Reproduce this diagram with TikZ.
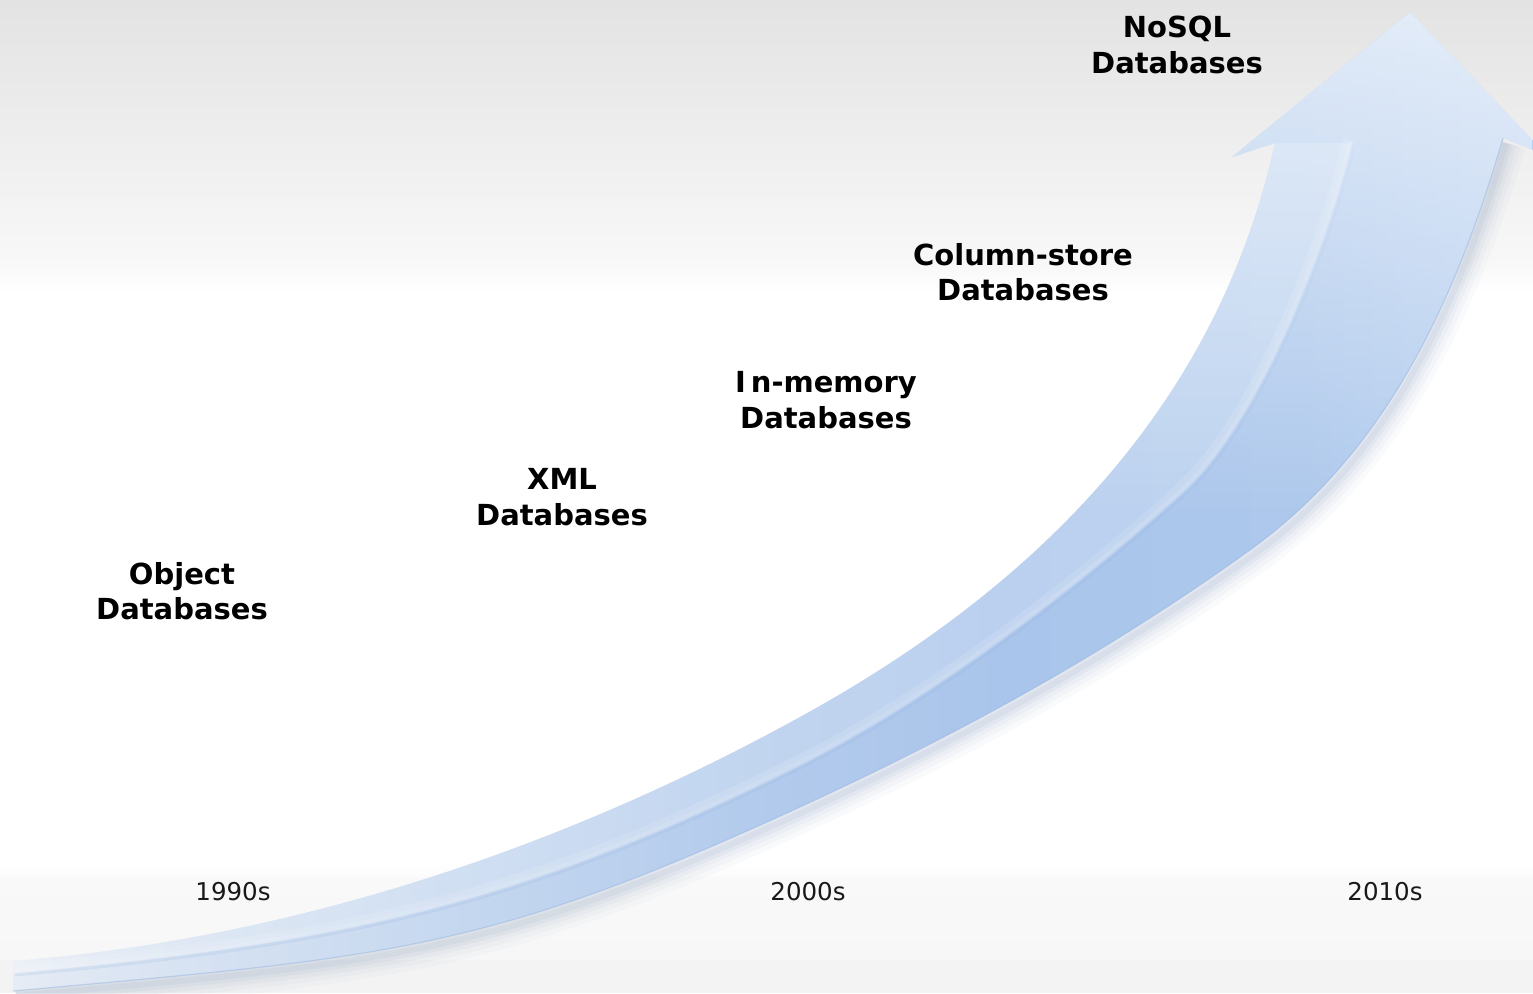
\documentclass[tikz,border=0pt]{standalone}
\usepackage{fontspec}
\setmainfont{DejaVu Sans}
\usetikzlibrary{fadings}
\definecolor{bgtop}{HTML}{E3E3E3}
\definecolor{bgmid}{HTML}{F8F8F8}
\definecolor{bgba}{HTML}{FCFCFC}
\definecolor{bgbb}{HTML}{F9F9F9}
\definecolor{bgbc}{HTML}{F7F7F7}
\definecolor{bgbd}{HTML}{F3F3F3}
\definecolor{taa}{HTML}{E8EDF5}
\definecolor{tab}{HTML}{DDE6F3}
\definecolor{tac}{HTML}{C9DAF0}
\definecolor{tad}{HTML}{B3CBEC}
\definecolor{tae}{HTML}{AAC5EB}
\definecolor{taf}{HTML}{ADC8EC}
\definecolor{tag}{HTML}{B8D0F0}
\definecolor{shadowc}{HTML}{7F95B8}
\definecolor{edgec}{HTML}{98B6E3}
\pgfdeclarehorizontalshading{arrowshade}{100bp}{color(0bp)=(taa); color(25bp)=(taa); color(28.3bp)=(tab); color(38bp)=(tac); color(49.5bp)=(tad); color(57.6bp)=(tae); color(67.4bp)=(taf); color(75bp)=(tag); color(100bp)=(tag)}
\tikzfading[name=headfade, top color=transparent!35, bottom color=transparent!100]
\tikzset{
  bottomedge/.style={insert path={(1503,138) .. controls (1455.7,300.2) and (1386.7,451.6) .. (1250,550) .. controls (1100,658) and (950,738) .. (800,807) .. controls (486,951.6) and (390,957) .. (13,991)}},
  arrowpath/.style={insert path={(13,961) .. controls (273,940) and (540,860) .. (800,717) .. controls (1077,565) and (1225,370) .. (1275,143) -- (1232,157) -- (1410,12) -- (1548,156) -- (1503,138) .. controls (1455.7,300.2) and (1386.7,451.6) .. (1250,550) .. controls (1100,658) and (950,738) .. (800,807) .. controls (486,951.6) and (390,957) .. (13,991) -- cycle}},
  stripepath/.style={insert path={(13,961) .. controls (273,940) and (540,860) .. (800,717) .. controls (1077,565) and (1225,370) .. (1275,143) -- (1352,143) .. controls (1329,240) and (1260,425) .. (1180,495) .. controls (1060,603) and (920,705) .. (800,765) .. controls (526,902) and (349.6,942.7) .. (13,973) -- cycle}},
  stripeline/.style={insert path={(1352,143) .. controls (1329,240) and (1260,425) .. (1180,495) .. controls (1060,603) and (920,705) .. (800,765) .. controls (526,902) and (349.6,942.7) .. (13,973)}},
  lbl/.style={font=\fontsize{29}{35.5}\selectfont\bfseries, align=center, inner sep=0pt, text=black},
  yr/.style={font=\fontsize{24.5}{29}\selectfont, inner sep=0pt, anchor=base, text=black!90}
}
\begin{document}
\begin{tikzpicture}[x=1pt,y=-1pt]
\useasboundingbox (0,0) rectangle (1533,993);
\begin{scope}
\clip (0,0) rectangle (1533,993);
% background
\fill[white] (0,0) rectangle (1533,993);
\shade[top color=bgtop, bottom color=bgmid] (0,0) rectangle (1533,266);
\shade[top color=bgmid, bottom color=white] (0,266) rectangle (1533,292);
\shade[top color=white, bottom color=bgba] (0,858) rectangle (1533,877);
\shade[top color=bgbb, bottom color=bgbc] (0,877) rectangle (1533,960);
\fill[bgbd] (0,960) rectangle (1533,993);
% shadow
\foreach \w/\o in {40/0.04, 30/0.05, 21/0.06, 13/0.08, 6/0.09}
  \draw[shadowc, line width=\w, opacity=\o, shift={(3,5)}, bottomedge];
% arrow body
\begin{scope}
  \clip[arrowpath];
  \shade[shading=arrowshade] (0,0) rectangle (1533,993);
  \fill[white, opacity=0.2, stripepath];
  \draw[white, opacity=0.12, line width=12, shift={(-3,-3)}, stripeline];
  \draw[white, opacity=0.1, line width=4, shift={(-2,-2)}, stripeline];
  \draw[edgec, opacity=0.22, line width=3, shift={(2,2)}, stripeline];
  \fill[white, path fading=headfade] (1040,0) rectangle (1533,520);
\end{scope}
\draw[edgec, opacity=0.5, line width=1.2, bottomedge];
\end{scope}
% labels
\node[lbl] (nosql) at (1177,45) {NoSQL\\Databases};
\node[lbl] (colstore) at (1023,272) {Column-store\\Databases};
\node[lbl] (inmem) at (826,400) {I\kern5pt n-memory\\Databases};
\node[lbl] (xml) at (562,497) {XML\\Databases};
\node[lbl] (objdb) at (182,591) {Object\\Databases};
\node[yr] (y1990) at (233,900) {1990s};
\node[yr] (y2000) at (808,900) {2000s};
\node[yr] (y2010) at (1385,900) {2010s};
\end{tikzpicture}
\end{document}
